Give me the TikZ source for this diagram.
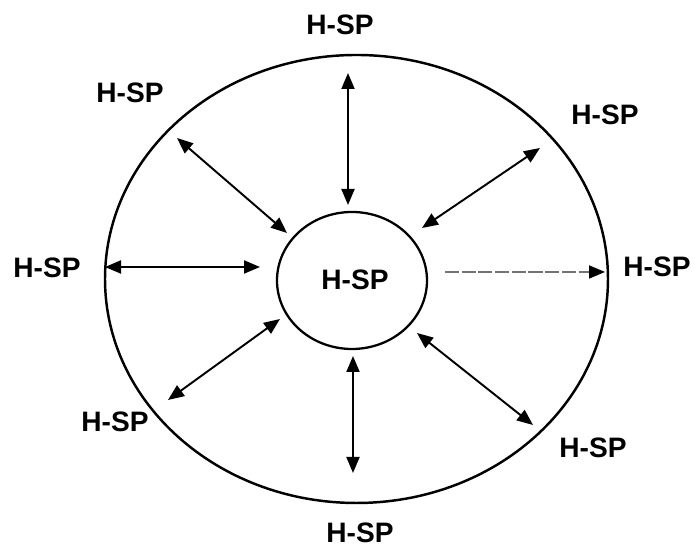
\documentclass[tikz,border=0pt]{standalone}
\usepackage{fontspec}
\setmainfont{Liberation Sans}
\usepackage{tikz}
\usetikzlibrary{arrows.meta,shapes.geometric}

\tikzset{
  hsp/.style={font=\bfseries\fontsize{16}{19}\selectfont, inner sep=0pt},
  tip/.tip={Triangle[length=3.2mm,width=2.6mm]},
  link/.style={tip-tip, line width=1.1pt},
}

\begin{document}
\begin{tikzpicture}[scale=1.0]
  \useasboundingbox (0,0) rectangle (13.9,11.04);
  % outer ring and inner hub
  \node[ellipse, draw, line width=1.4pt, minimum width=10.06cm, minimum height=8.96cm, inner sep=0pt] (ring) at (7.13,5.46) {};
  \node[ellipse, draw, line width=1.3pt, minimum width=3.0cm, minimum height=2.74cm, inner sep=0pt] (hub) at (7.04,5.43) {};
  \node[hsp] (center) at (7.1,5.44) {H-SP};
  % outer labels
  \node[hsp] (top)    at (6.8,10.54) {H-SP};
  \node[hsp] (topl)   at (2.6,9.18)  {H-SP};
  \node[hsp] (topr)   at (12.1,8.74) {H-SP};
  \node[hsp] (left)   at (0.94,5.68) {H-SP};
  \node[hsp] (right)  at (13.14,5.70) {H-SP};
  \node[hsp] (botl)   at (2.3,2.6)   {H-SP};
  \node[hsp] (botr)   at (11.86,2.08) {H-SP};
  \node[hsp] (bot)    at (7.2,0.38)  {H-SP};
  % arrow ends
  \coordinate (a1) at (6.96,9.58);  \coordinate (b1) at (6.96,6.94);
  \coordinate (a2) at (3.54,8.28);  \coordinate (b2) at (5.74,6.38);
  \coordinate (a3) at (10.8,8.08);  \coordinate (b3) at (8.44,6.48);
  \coordinate (a4) at (2.1,5.70);   \coordinate (b4) at (5.2,5.70);
  \coordinate (a5) at (12.1,5.6);   \coordinate (b5) at (8.9,5.6);
  \coordinate (a6) at (3.36,3.04);  \coordinate (b6) at (5.6,4.66);
  \coordinate (a7) at (10.66,2.54); \coordinate (b7) at (8.34,4.38);
  \coordinate (a8) at (7.06,1.58);  \coordinate (b8) at (7.06,3.92);
  \draw[link] (a1) -- (b1);
  \draw[link] (a2) -- (b2);
  \draw[link] (a3) -- (b3);
  \draw[link] (a4) -- (b4);
  % one-way, faint
  \draw[-{Triangle[length=3.2mm,width=2.6mm,black]}, line width=1pt, black!55, dash pattern=on 8pt off 1.5pt] (b5) -- (a5);
  \draw[link] (a6) -- (b6);
  \draw[link] (a7) -- (b7);
  \draw[link] (a8) -- (b8);
\end{tikzpicture}
\end{document}
